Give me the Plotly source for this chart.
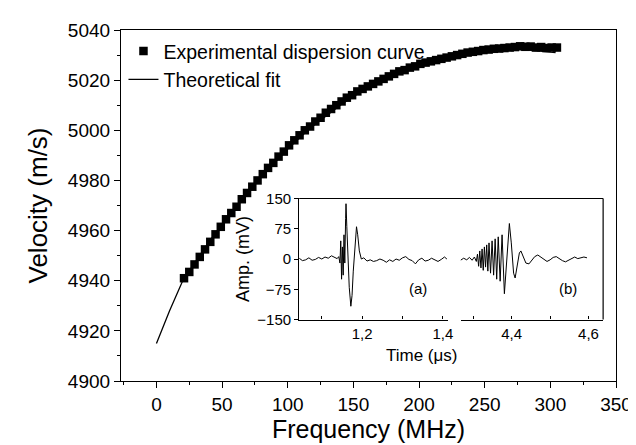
import plotly.graph_objects as go

# main dispersion curve
EXP_F = [21, 25, 29, 33, 37, 41, 45, 49, 53, 57, 61, 65, 69, 73, 77, 81, 85, 89, 93, 97,
         101, 105, 109, 113, 117, 121, 125, 129, 133, 137, 141, 145, 149, 153, 157, 161,
         165, 169, 173, 177, 181, 185, 189, 193, 197, 201, 205, 209, 213, 217, 221, 225,
         229, 233, 237, 241, 245, 249, 253, 257, 261, 265, 269, 273, 277, 281, 285, 289,
         293, 297, 301, 305]
EXP_V = [4941, 4943.5, 4946.5, 4949.5, 4952.5, 4955.5, 4958.5, 4961.5, 4964.5, 4967,
         4969.5, 4972.5, 4975, 4977.5, 4980, 4982.5, 4985, 4987, 4989.5, 4991.5,
         4994, 4996, 4998, 5000, 5001.5, 5003.5, 5005, 5007, 5008.5, 5010,
         5011.5, 5013, 5014, 5015.5, 5016.5, 5017.5, 5018.5, 5019.5, 5020.5, 5021.5,
         5022.5, 5023.5, 5024, 5025, 5025.5, 5026.5, 5027, 5027.5, 5028, 5028.5,
         5029, 5029.5, 5030, 5030.5, 5031, 5031.3, 5031.6, 5032, 5032.2, 5032.5,
         5032.6, 5032.8, 5033, 5033.2, 5033.5, 5033.3, 5033.4, 5033, 5033.2, 5032.8,
         5033, 5033]

FIT_F = [0, 10, 20, 30, 40, 50, 60, 70, 80, 90, 100, 110, 120, 130, 140, 150, 160, 170,
         180, 190, 200, 210, 220, 230, 240, 250, 260, 270, 280, 290, 300, 304]
FIT_V = [4915, 4928, 4940, 4948, 4955.5, 4962.5, 4969, 4975.5, 4981.5, 4987, 4992.5,
         4997.5, 5002, 5006, 5010, 5013.5, 5016.5, 5019.5, 5022, 5024, 5026, 5027.5,
         5029, 5030, 5031, 5031.8, 5032.3, 5032.5, 5032.2, 5031.7, 5031.2, 5031]

# inset signals (a) and (b), time in microseconds, amplitude in mV
T_A = [1.044, 1.052, 1.060, 1.068, 1.076, 1.084, 1.092, 1.100, 1.108, 1.116, 1.124,
       1.132, 1.138, 1.142, 1.145, 1.147, 1.149, 1.151, 1.153, 1.155, 1.157, 1.159,
       1.160, 1.162, 1.165, 1.168, 1.172, 1.175, 1.178, 1.182, 1.186, 1.189, 1.193,
       1.198, 1.204, 1.212, 1.220, 1.228, 1.236, 1.244, 1.252, 1.260, 1.268, 1.276,
       1.284, 1.292, 1.300, 1.308, 1.316, 1.324, 1.332, 1.340, 1.348, 1.356, 1.364,
       1.372, 1.380, 1.388, 1.396, 1.404, 1.410]
AMP_A = [2, -4, -2, 3, -3, -1, 4, 0, 5, 2, 8,
         3, 1, 6, -10, 45, -50, 30, -40, 60, -10, 100,
         137, 80, 10, -70, -117, -90, -30, 40, 80, 60, 20,
         0, 3, -5, -2, -6, -4, 0, -3, -8, -2, -6,
         0, -3, 3, 6, -1, -4, -12, -2, 2, -5, -3,
         2, -2, -6, -1, 5, 0]

T_B = [4.267, 4.275, 4.283, 4.290, 4.297, 4.303, 4.308, 4.311, 4.314, 4.317, 4.320,
       4.323, 4.326, 4.329, 4.332, 4.335, 4.338, 4.341, 4.345, 4.349, 4.353, 4.357,
       4.361, 4.365, 4.370, 4.375, 4.381, 4.388, 4.394, 4.399, 4.405, 4.409, 4.414,
       4.420, 4.424, 4.430, 4.437, 4.445, 4.452, 4.460, 4.468, 4.476, 4.484, 4.492,
       4.500, 4.508, 4.516, 4.524, 4.532, 4.540, 4.548, 4.556, 4.564, 4.572, 4.580,
       4.588, 4.596]
AMP_B = [-3, 2, -2, 4, -3, 5, -6, 12, -18, 20, -22,
         25, -28, 30, -20, 35, -30, 40, -35, 45, -40, 50,
         -50, 55, -55, 60, -86, 0, 88, 40, -35, -47, -15,
         15, 20, 5, -10, -12, -3, 6, 10, 4, -2, -6,
         -2, 4, 6, 0, -4, -7, -3, 2, 5, 1, 3,
         5, 3]

X_TICKS = [0, 50, 100, 150, 200, 250, 300, 350]
Y_TICKS = [4900, 4920, 4940, 4960, 4980, 5000, 5020, 5040]
A_TICKS = [1.1, 1.2, 1.3, 1.4]
B_TICKS = [4.3, 4.4, 4.5, 4.6]
AMP_TICKS = [-150, -75, 0, 75, 150]


def comma_labels(vals, shown):
    return [f"{v:.1f}".replace(".", ",") if v in shown else "" for v in vals]


FONT = "Liberation Sans, Arial, sans-serif"
ax_common = dict(showline=True, linecolor="black", linewidth=1.2, showgrid=False,
                 zeroline=False, tickcolor="black")

fig = go.Figure()
fig.add_trace(go.Scatter(x=EXP_F, y=EXP_V, mode="markers", name="Experimental dispersion curve",
                         marker=dict(symbol="square", size=8.5, color="black")))
fig.add_trace(go.Scatter(x=FIT_F, y=FIT_V, mode="lines", name="Theoretical fit",
                         line=dict(color="black", width=1.3)))
fig.add_trace(go.Scatter(x=T_A, y=AMP_A, mode="lines", xaxis="x2", yaxis="y2", showlegend=False,
                         line=dict(color="black", width=1)))
fig.add_trace(go.Scatter(x=T_B, y=AMP_B, mode="lines", xaxis="x3", yaxis="y3", showlegend=False,
                         line=dict(color="black", width=1)))

fig.update_layout(
    width=636, height=445, margin=dict(l=113, r=20, t=19, b=72),
    paper_bgcolor="white", plot_bgcolor="white",
    font=dict(family=FONT, color="black"),
    legend=dict(x=0.005, y=0.995, xanchor="left", yanchor="top", bgcolor="rgba(0,0,0,0)",
                font=dict(size=19.5), tracegroupgap=0),
    xaxis=dict(**ax_common, mirror=True, ticks="outside", range=[-27, 350], tickvals=X_TICKS,
               ticklen=6, minor=dict(dtick=25, ticklen=3, ticks="outside", tickcolor="black"),
               tickfont=dict(size=19),
               title=dict(text="Frequency (MHz)", font=dict(size=25), standoff=6)),
    yaxis=dict(**ax_common, mirror=True, ticks="outside", range=[4900, 5040], tickvals=Y_TICKS,
               ticklen=6, minor=dict(dtick=10, ticklen=3, ticks="outside", tickcolor="black"),
               tickfont=dict(size=19),
               title=dict(text="Velocity (m/s)", font=dict(size=26), standoff=12)),
    xaxis2=dict(**ax_common, ticks="inside", domain=[0.360, 0.660], anchor="y2",
                range=[1.044, 1.412], tickvals=A_TICKS,
                ticktext=comma_labels(A_TICKS, [1.2, 1.4]), ticklen=3, tickfont=dict(size=15)),
    xaxis3=dict(**ax_common, ticks="inside", domain=[0.686, 0.974], anchor="y3",
                range=[4.267, 4.638], tickvals=B_TICKS,
                ticktext=comma_labels(B_TICKS, [4.4, 4.6]), ticklen=3, tickfont=dict(size=15)),
    yaxis2=dict(**ax_common, ticks="outside", domain=[0.175, 0.520], anchor="x2",
                range=[-150, 150], tickvals=AMP_TICKS, ticklen=4, tickfont=dict(size=15),
                title=dict(text="Amp. (mV)", font=dict(size=18), standoff=2)),
    yaxis3=dict(domain=[0.175, 0.520], anchor="x3", range=[-150, 150], showticklabels=False,
                showgrid=False, zeroline=False, showline=False, ticks=""),
    shapes=[
        dict(type="line", xref="paper", yref="paper", x0=0.360, x1=0.974, y0=0.520, y1=0.520,
             line=dict(color="black", width=1.2)),
        dict(type="line", xref="paper", yref="paper", x0=0.974, x1=0.974, y0=0.175, y1=0.520,
             line=dict(color="black", width=1.2)),
    ],
    annotations=[
        dict(text="(a)", x=1.339, y=-74, xref="x2", yref="y2", showarrow=False, font=dict(size=15)),
        dict(text="(b)", x=4.546, y=-74, xref="x3", yref="y3", showarrow=False, font=dict(size=15)),
        dict(text="Time (\u03bcs)", x=0.684, y=0.04, xref="paper", yref="paper",
             showarrow=False, font=dict(size=17)),
    ],
)

fig.write_html("out.html")
